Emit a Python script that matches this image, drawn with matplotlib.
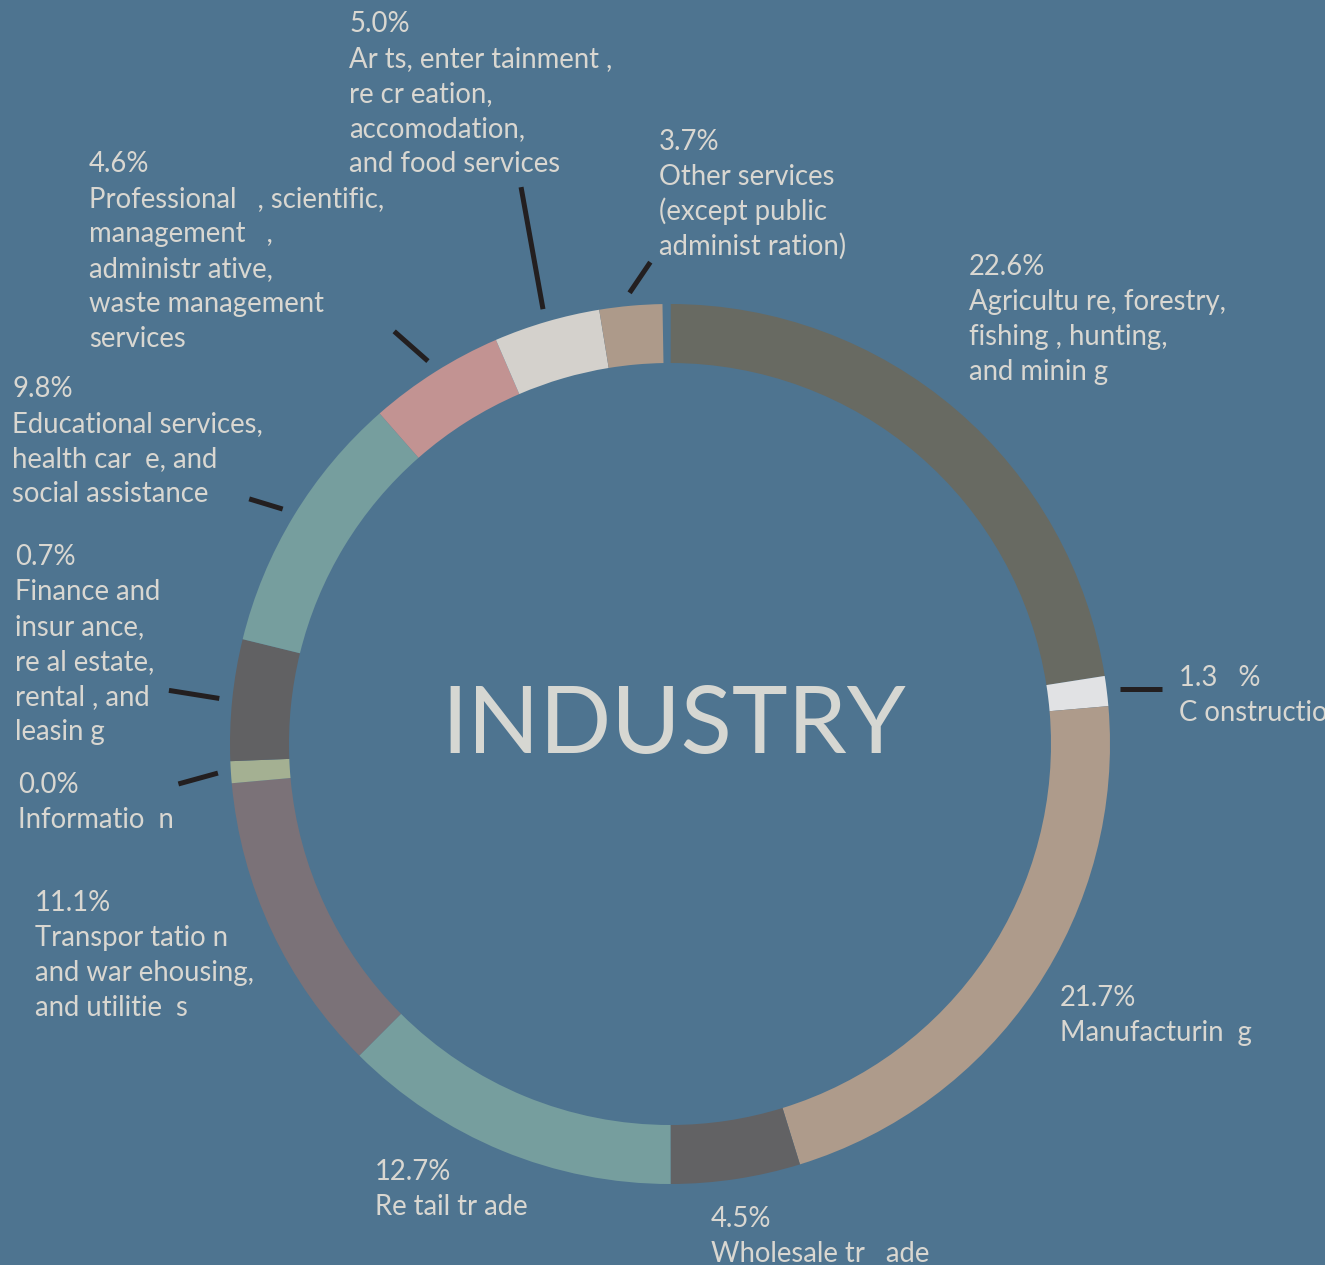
import numpy as np
import matplotlib
matplotlib.use("Agg")
import matplotlib.pyplot as plt

# ---- data ----
industries = ["Agriculture", "Construction", "Manufacturing", "Wholesale trade",
              "Retail trade", "Transportation", "Information", "Finance",
              "Education", "Professional", "Arts", "Other services"]
# arc shares as drawn in the ring (percent of full circle)
shares = [22.5, 1.1, 21.6, 4.75, 12.5, 11.1, 0.8, 4.45, 9.7, 5.0, 3.9, 2.3]
# percentages printed in labels
pct_labels = ["22.6%", "1.3   %", "21.7%", "4.5%", "12.7%", "11.1%", "0.0%",
              "0.7%", "9.8%", "4.6%", "5.0%", "3.7%"]
label_texts = [
    ["Agricultu re, forestry,", "fishing , hunting,", "and minin g"],
    ["C onstruction"],
    ["Manufacturin  g"],
    ["Wholesale tr   ade"],
    ["Re tail tr ade"],
    ["Transpor tatio n", "and war ehousing,", "and utilitie  s"],
    ["Informatio  n"],
    ["Finance and", "insur ance,", "re al estate,", "rental , and", "leasin g"],
    ["Educational services,", "health car  e, and", "social assistance"],
    ["Professional   , scientific,", "management   ,", "administr ative,",
     "waste management", "services"],
    ["Ar ts, enter tainment ,", "re cr eation,", "accomodation,", "and food services"],
    ["Other services", "(except public", "administ ration)"],
]
colors = ["#686a62", "#e1e2e4", "#ae9b8b", "#626264", "#769e9e", "#7b7278",
          "#a4b092", "#616163", "#769e9e", "#c29392", "#d4d1cc", "#ad9a8a"]

# ---- layout (pixel space, y measured from top) ----
W, H = 1325, 1265
cx, cy_top = 670, 744
R, ring_w = 440, 59
label_pos = [(969, 275), (1179, 686), (1060, 1006), (711, 1227), (375, 1180),
             (35, 911), (18, 793), (15, 565), (12, 397), (89, 172), (349, 32),
             (659, 150)]
# leader lines: (direction clockwise from up in degrees, length px) or None
leaders = [None, (90, 42), None, None, None, None, (254.6, 41),
           (279.1, 51), (286.9, 35), (311.4, 45), (349.8, 124), (34.1, 37)]
line_pitch = 35

bg = "#4e7490"
txt_col = "#d9d7d1"
plt.rcParams["font.family"] = ["Lato", "DejaVu Sans"]

fig = plt.figure(figsize=(W / 100, H / 100), dpi=100, facecolor=bg)
ax = fig.add_axes([0, 0, 1, 1])
ax.set_facecolor(bg)

cy = H - cy_top
fracs = np.array(shares) / 100.0
start_off = 0.1
ax.pie(fracs, colors=colors, startangle=90 - start_off, counterclock=False,
       normalize=False, radius=R, center=(cx, cy),
       wedgeprops=dict(width=ring_w, linewidth=0))

# leader lines starting just outside the ring at each wedge's midpoint
cum = np.cumsum(np.concatenate([[0], fracs])) * 360
for i, ld in enumerate(leaders):
    if ld is None:
        continue
    mid = np.deg2rad(start_off + (cum[i] + cum[i + 1]) / 2)
    r0 = 453
    x0, y0 = cx + r0 * np.sin(mid), cy + r0 * np.cos(mid)
    d = np.deg2rad(ld[0])
    x1, y1 = x0 + ld[1] * np.sin(d), y0 + ld[1] * np.cos(d)
    ax.plot([x0, x1], [y0, y1], color="#231f20", lw=3.6, solid_capstyle="butt")

fs = 19.8
for i, (x, yb) in enumerate(label_pos):
    lines = [pct_labels[i]] + label_texts[i]
    for k, s in enumerate(lines):
        ax.text(x, H - (yb + k * line_pitch), s, color=txt_col, fontsize=fs,
                ha="left", va="baseline")

ax.text(674, H - 753, "INDUSTRY", color="#d6d7d2", fontsize=68,
        ha="center", va="baseline")

ax.set_xlim(0, W)
ax.set_ylim(0, H)
ax.set_aspect("equal")
ax.axis("off")
fig.savefig("out.png", dpi=100, facecolor=bg)
